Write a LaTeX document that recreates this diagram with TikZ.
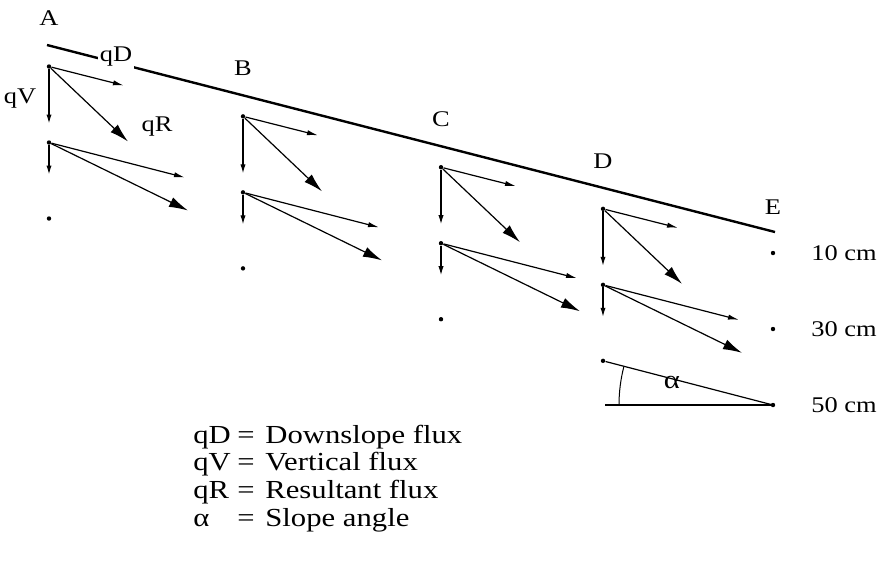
\documentclass[tikz,border=0pt]{standalone}
\usepackage{fontspec}
\setmainfont{Liberation Serif}[FakeStretch=1.18]
\usetikzlibrary{arrows.meta, positioning}

\begin{document}
\begin{tikzpicture}[x=0.5pt, y=-0.5pt,
    slope/.style={line width=1.2pt},
    dot/.style={circle, fill, inner sep=0pt, minimum size=2.2pt},
    fluxD/.style={-{Latex[length=5.5pt, width=2.6pt]}, line width=0.6pt},
    fluxV/.style={-{Latex[length=4.5pt, width=2.6pt]}, line width=0.6pt},
    fluxR/.style={-{Latex[length=9.5pt, width=5.2pt]}, line width=0.6pt},
    site/.style={font=\fontsize{11.2}{13}\selectfont, inner sep=1pt},
    depth/.style={font=\fontsize{11.2}{13}\selectfont, anchor=west, inner sep=0pt},
    legend/.style={font=\fontsize{13}{15}\selectfont, anchor=base west, inner sep=0pt},
]
\useasboundingbox (0,0) rectangle (879,575);

% Slope surface
\coordinate (top) at (47,45);
\coordinate (bottom) at (775,232);
\draw[slope] (top) -- (bottom);
\node[site, fill=white] (qDlbl) at (116,57) {qD};

% Profiles A to D: 10 cm and 30 cm flux vectors
\foreach \n/\x in {A/49, B/243, C/441, D/603} {
  \pgfmathsetmacro{\y}{45+(\x-47)*0.2569}
  \node[site] (\n) at (\x,\y-27) {\n};
  \node[dot] (\n1) at (\x,\y+21) {};
  \node[dot] (\n2) at (\x,\y+97) {};
  \node[dot] (\n3) at (\x,\y+173) {};
  \coordinate (\n1d) at ([shift={(75,19)}]\n1);
  \coordinate (\n1v) at ([shift={(0,57)}]\n1);
  \coordinate (\n1r) at ([shift={(79,75)}]\n1);
  \coordinate (\n2d) at ([shift={(136,35)}]\n2);
  \coordinate (\n2v) at ([shift={(0,32)}]\n2);
  \coordinate (\n2r) at ([shift={(139,68)}]\n2);
  \draw[fluxD] (\n1) -- (\n1d);
  \draw[fluxV] (\n1) -- (\n1v);
  \draw[fluxR] (\n1) -- (\n1r);
  \draw[fluxD] (\n2) -- (\n2d);
  \draw[fluxV] (\n2) -- (\n2v);
  \draw[fluxR] (\n2) -- (\n2r);
}
\node[site] (qVlbl) at (20,99) {qV};
\node[site] (qRlbl) at (157,127) {qR};

% Profile E and depths
\node[site] (E) at (773,207) {E};
\node[dot] (E1) at (773,253) {};
\node[dot] (E2) at (773,329) {};
\node[dot] (E3) at (773,405) {};
\node[depth] (d10) at (811,253) {10 cm};
\node[depth] (d30) at (811,329) {30 cm};
\node[depth] (d50) at (811,405) {50 cm};

% Slope angle
\coordinate (base) at (605,405);
\draw[line width=0.6pt] (D3) -- (E3.center);
\draw[line width=0.6pt] (base) -- (E3.center);
\draw[line width=0.5pt] ([shift={(180:154)}]E3.center) arc[start angle=180, end angle=194.5, radius=154];
\node[site, font=\fontsize{13}{15}\selectfont] (alpha) at (672,382) {α};

% Legend
\foreach \i/\k/\t in {1/qD/Downslope flux, 2/qV/Vertical flux, 3/qR/Resultant flux, 4/α/Slope angle} {
  \node[legend] (key\i) at (193,415.5+27.7*\i) {\k};
  \node[legend] (eq\i) at (237,415.5+27.7*\i) {=};
  \node[legend] (txt\i) at (265,415.5+27.7*\i) {\t};
}
\end{tikzpicture}
\end{document}
